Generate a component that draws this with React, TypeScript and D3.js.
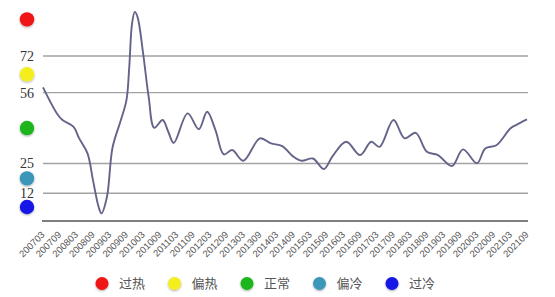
import React from "react";
import * as d3 from "d3";

const dates = ["200703","200708","200710","200802","200804","200807","200809","200811","200812","200902","200904","200907","200909","200910","200911","200912","201001","201003","201005","201007","201010","201012","201102","201107","201111","201202","201205","201208","201211","201303","201309","201401","201405","201409","201412","201504","201508","201511","201604","201609","201701","201704","201709","201801","201805","201809","201901","201906","201910","202003","202006","202010","202103","202105","202109"];
const values = [58.3,46.9,44,41,36,29.4,17.5,6,3.2,10.5,32,44,52.7,67,86,91.3,89,73,54,40.6,44,39,34,46.9,40,47.6,39.6,29,30.9,26.2,36,33.8,32.6,28,26.2,27.2,22.6,28,34.5,28.7,34.5,32.3,44,36,38.4,30.1,28.7,23.9,31.2,25.1,31.6,33,40.3,41.8,44.3];

const xTickLabels = ["200703","200709","200803","200809","200903","200909","201003","201009","201103","201109","201203","201209","201303","201309","201403","201409","201503","201509","201603","201609","201703","201709","201803","201809","201903","201909","202003","202009","202103","202109"];

const yTicks = [12, 25, 56, 72];
const bandEdges = [0, 12, 25, 56, 72, 104];
const bandNames = ["过冷", "偏冷", "正常", "偏热", "过热"];
const bandColors = ["#1515e6", "#3a96b8", "#1cb51f", "#f4ee1c", "#ee1414"];

const legendNames = ["过热", "偏热", "正常", "偏冷", "过冷"];
const legendColors = ["#ee1414", "#f4ee1c", "#1cb51f", "#3a96b8", "#1515e6"];

const monthIndex = (s: string) => (+s.slice(0, 4) - 2007) * 12 + (+s.slice(4) - 3);

export default function App() {
  const W = 555, H = 297;
  const x = d3.scaleLinear().domain([0, monthIndex("202109")]).range([43, 527]);
  const y = d3.scaleLinear().domain([0, 72]).range([220.7, 56]);
  const pts: [number, number][] = dates.map((d, i) => [x(monthIndex(d)), y(values[i])]);
  const line = d3.line().curve(d3.curveCatmullRom.alpha(0.5))(pts) || "";
  const mids = bandEdges.slice(0, -1).map((e, i) => (e + bandEdges[i + 1]) / 2);

  return (
    <svg width={W} height={H} style={{ position: "absolute", left: 0, top: 0, background: "#fff" }}>
      <defs>
        <filter id="soft" x="-50%" y="-50%" width="200%" height="200%">
          <feGaussianBlur in="SourceAlpha" stdDeviation="1" />
          <feOffset dx="0" dy="0.8" result="b" />
          <feComponentTransfer><feFuncA type="linear" slope="0.35" /></feComponentTransfer>
          <feMerge><feMergeNode /><feMergeNode in="SourceGraphic" /></feMerge>
        </filter>
      </defs>
      {yTicks.map((t) => (
        <g key={t}>
          <line x1={43} x2={528} y1={y(t)} y2={y(t)} stroke="#a3a3a3" strokeWidth={1.3} />
          <text x={34} y={y(t)} dy="0.35em" textAnchor="end" fontFamily="Liberation Serif, serif" fontSize={14} fill="#333">{t}</text>
        </g>
      ))}
      <line x1={42} x2={528} y1={221} y2={221} stroke="#555" strokeWidth={1.6} />
      {mids.map((m, i) => (
        <circle key={bandNames[i]} cx={27} cy={y(m)} r={7.2} fill={bandColors[i]} filter="url(#soft)" />
      ))}
      <path d={line} fill="none" stroke="#64648a" strokeWidth={1.9} />
      {xTickLabels.map((l) => {
        const xx = x(monthIndex(l));
        return (
          <text key={l} transform={`translate(${xx},${233}) rotate(-45)`} textAnchor="end" dy="0.35em" fontFamily="Liberation Sans, Arial, sans-serif" fontSize={9.5} fill="#555">{l}</text>
        );
      })}
      {legendNames.map((n, i) => {
        const cx = 102 + i * 72.5;
        return (
          <g key={n}>
            <circle cx={cx} cy={283.5} r={6.5} fill={legendColors[i]} filter="url(#soft)" />
            <text x={cx + 17} y={283.5} dy="0.35em" fontFamily="Noto Sans CJK SC, sans-serif" fontSize={13} fill="#555">{n}</text>
          </g>
        );
      })}
    </svg>
  );
}
